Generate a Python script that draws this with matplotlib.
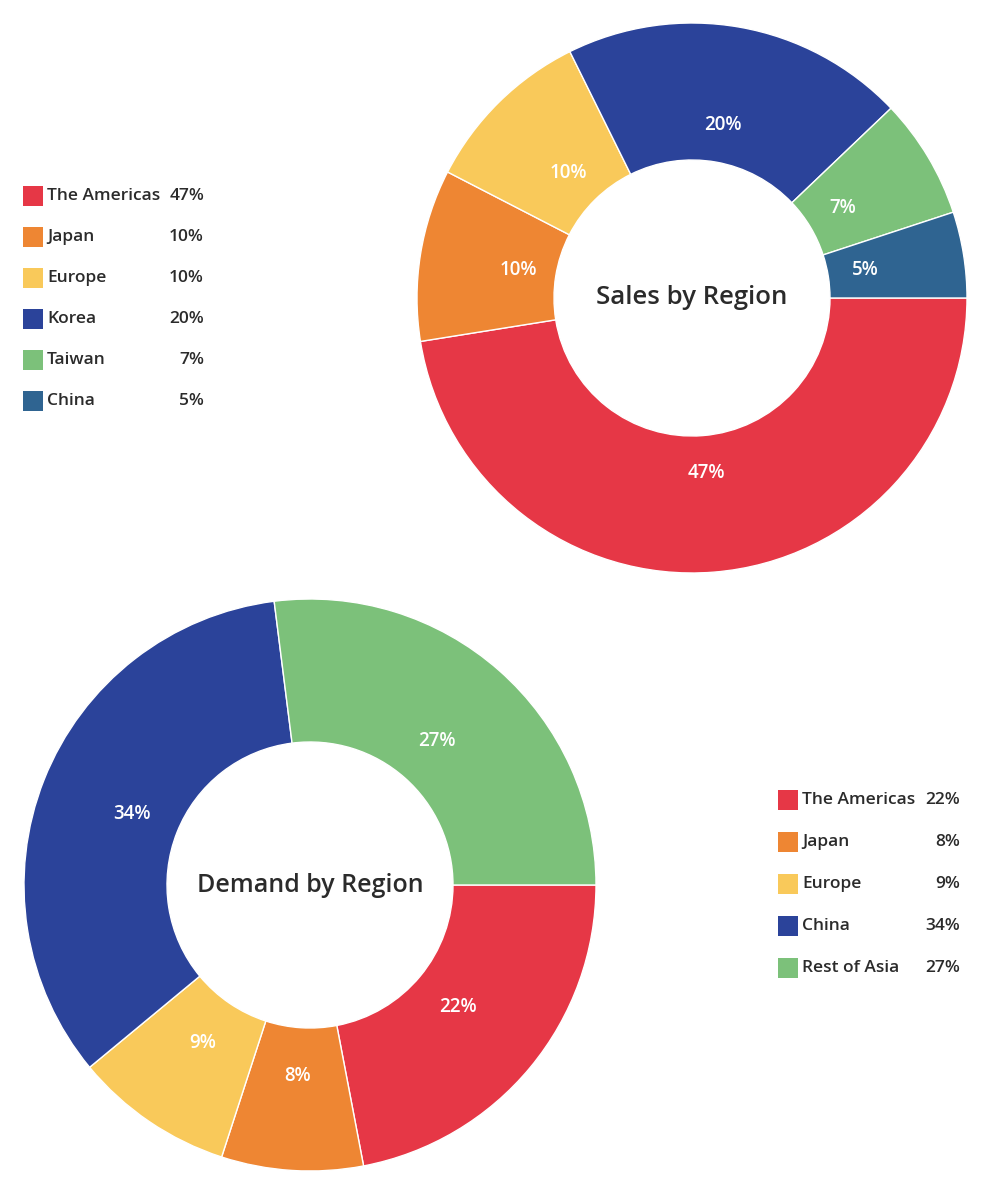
import matplotlib
matplotlib.use("Agg")
import matplotlib.pyplot as plt
from matplotlib.patches import Rectangle

plt.rcParams['font.family'] = ['Open Sans', 'DejaVu Sans']

# ---- data ----
sales_labels = ["The Americas", "Japan", "Europe", "Korea", "Taiwan", "China"]
sales_values = [47, 10, 10, 20, 7, 5]
sales_colors = ["#E63746", "#EE8633", "#F9C95A", "#2B439A", "#7CC17A", "#2F6491"]

demand_labels = ["The Americas", "Japan", "Europe", "China", "Rest of Asia"]
demand_values = [22, 8, 9, 34, 27]
demand_colors = ["#E63746", "#EE8633", "#F9C95A", "#2B439A", "#7CC17A"]

W, H = 988, 1200
fig = plt.figure(figsize=(W / 100, H / 100), dpi=100)
ax = fig.add_axes([0, 0, 1, 1])
ax.set_xlim(0, W)
ax.set_ylim(0, H)
ax.set_aspect('equal')
ax.axis('off')

def Y(y):
    return H - y

TXT = "#2b2b2b"

def donut(values, colors, center, r_out, r_in, title, pctd, tsize):
    wedges, texts, autotexts = ax.pie(
        values, colors=colors, startangle=0, counterclock=False,
        center=(center[0], Y(center[1])), radius=r_out,
        wedgeprops=dict(width=r_out - r_in, edgecolor='white', linewidth=1),
        autopct=lambda p: f"{p:.0f}%", pctdistance=pctd,
        textprops=dict(color='white', fontsize=13.5, fontweight='semibold'),
        normalize=True, frame=True)
    for t, v in zip(autotexts, values):
        t.set_text(f"{v}%")
    ax.text(center[0], Y(center[1]), title, ha='center', va='center',
            fontsize=tsize, fontweight='semibold', color=TXT)

donut(sales_values, sales_colors, (692, 298), 275, 138, "Sales by Region", 0.64, 18.5)
donut(demand_values, demand_colors, (310, 885), 286, 143, "Demand by Region", 0.67, 18)

ax.set_xlim(0, W)
ax.set_ylim(0, H)
ax.axis('off')

def legend(labels, values, colors, x_sq, y0, dy, x_pct):
    for i, (lab, val, col) in enumerate(zip(labels, values, colors)):
        yc = y0 + i * dy
        ax.add_patch(Rectangle((x_sq, Y(yc) - 10), 20, 20, facecolor=col,
                               edgecolor='none'))
        ax.text(x_sq + 24, Y(yc), lab, ha='left', va='center', fontsize=12.5,
                fontweight='semibold', color=TXT)
        ax.text(x_pct, Y(yc), f"{val}%", ha='right', va='center', fontsize=12.5,
                fontweight='semibold', color=TXT)

legend(sales_labels, sales_values, sales_colors, 23, 196, 41, 204)
legend(demand_labels, demand_values, demand_colors, 778, 800, 42, 960)

fig.savefig("out.png", dpi=100, facecolor='white')
